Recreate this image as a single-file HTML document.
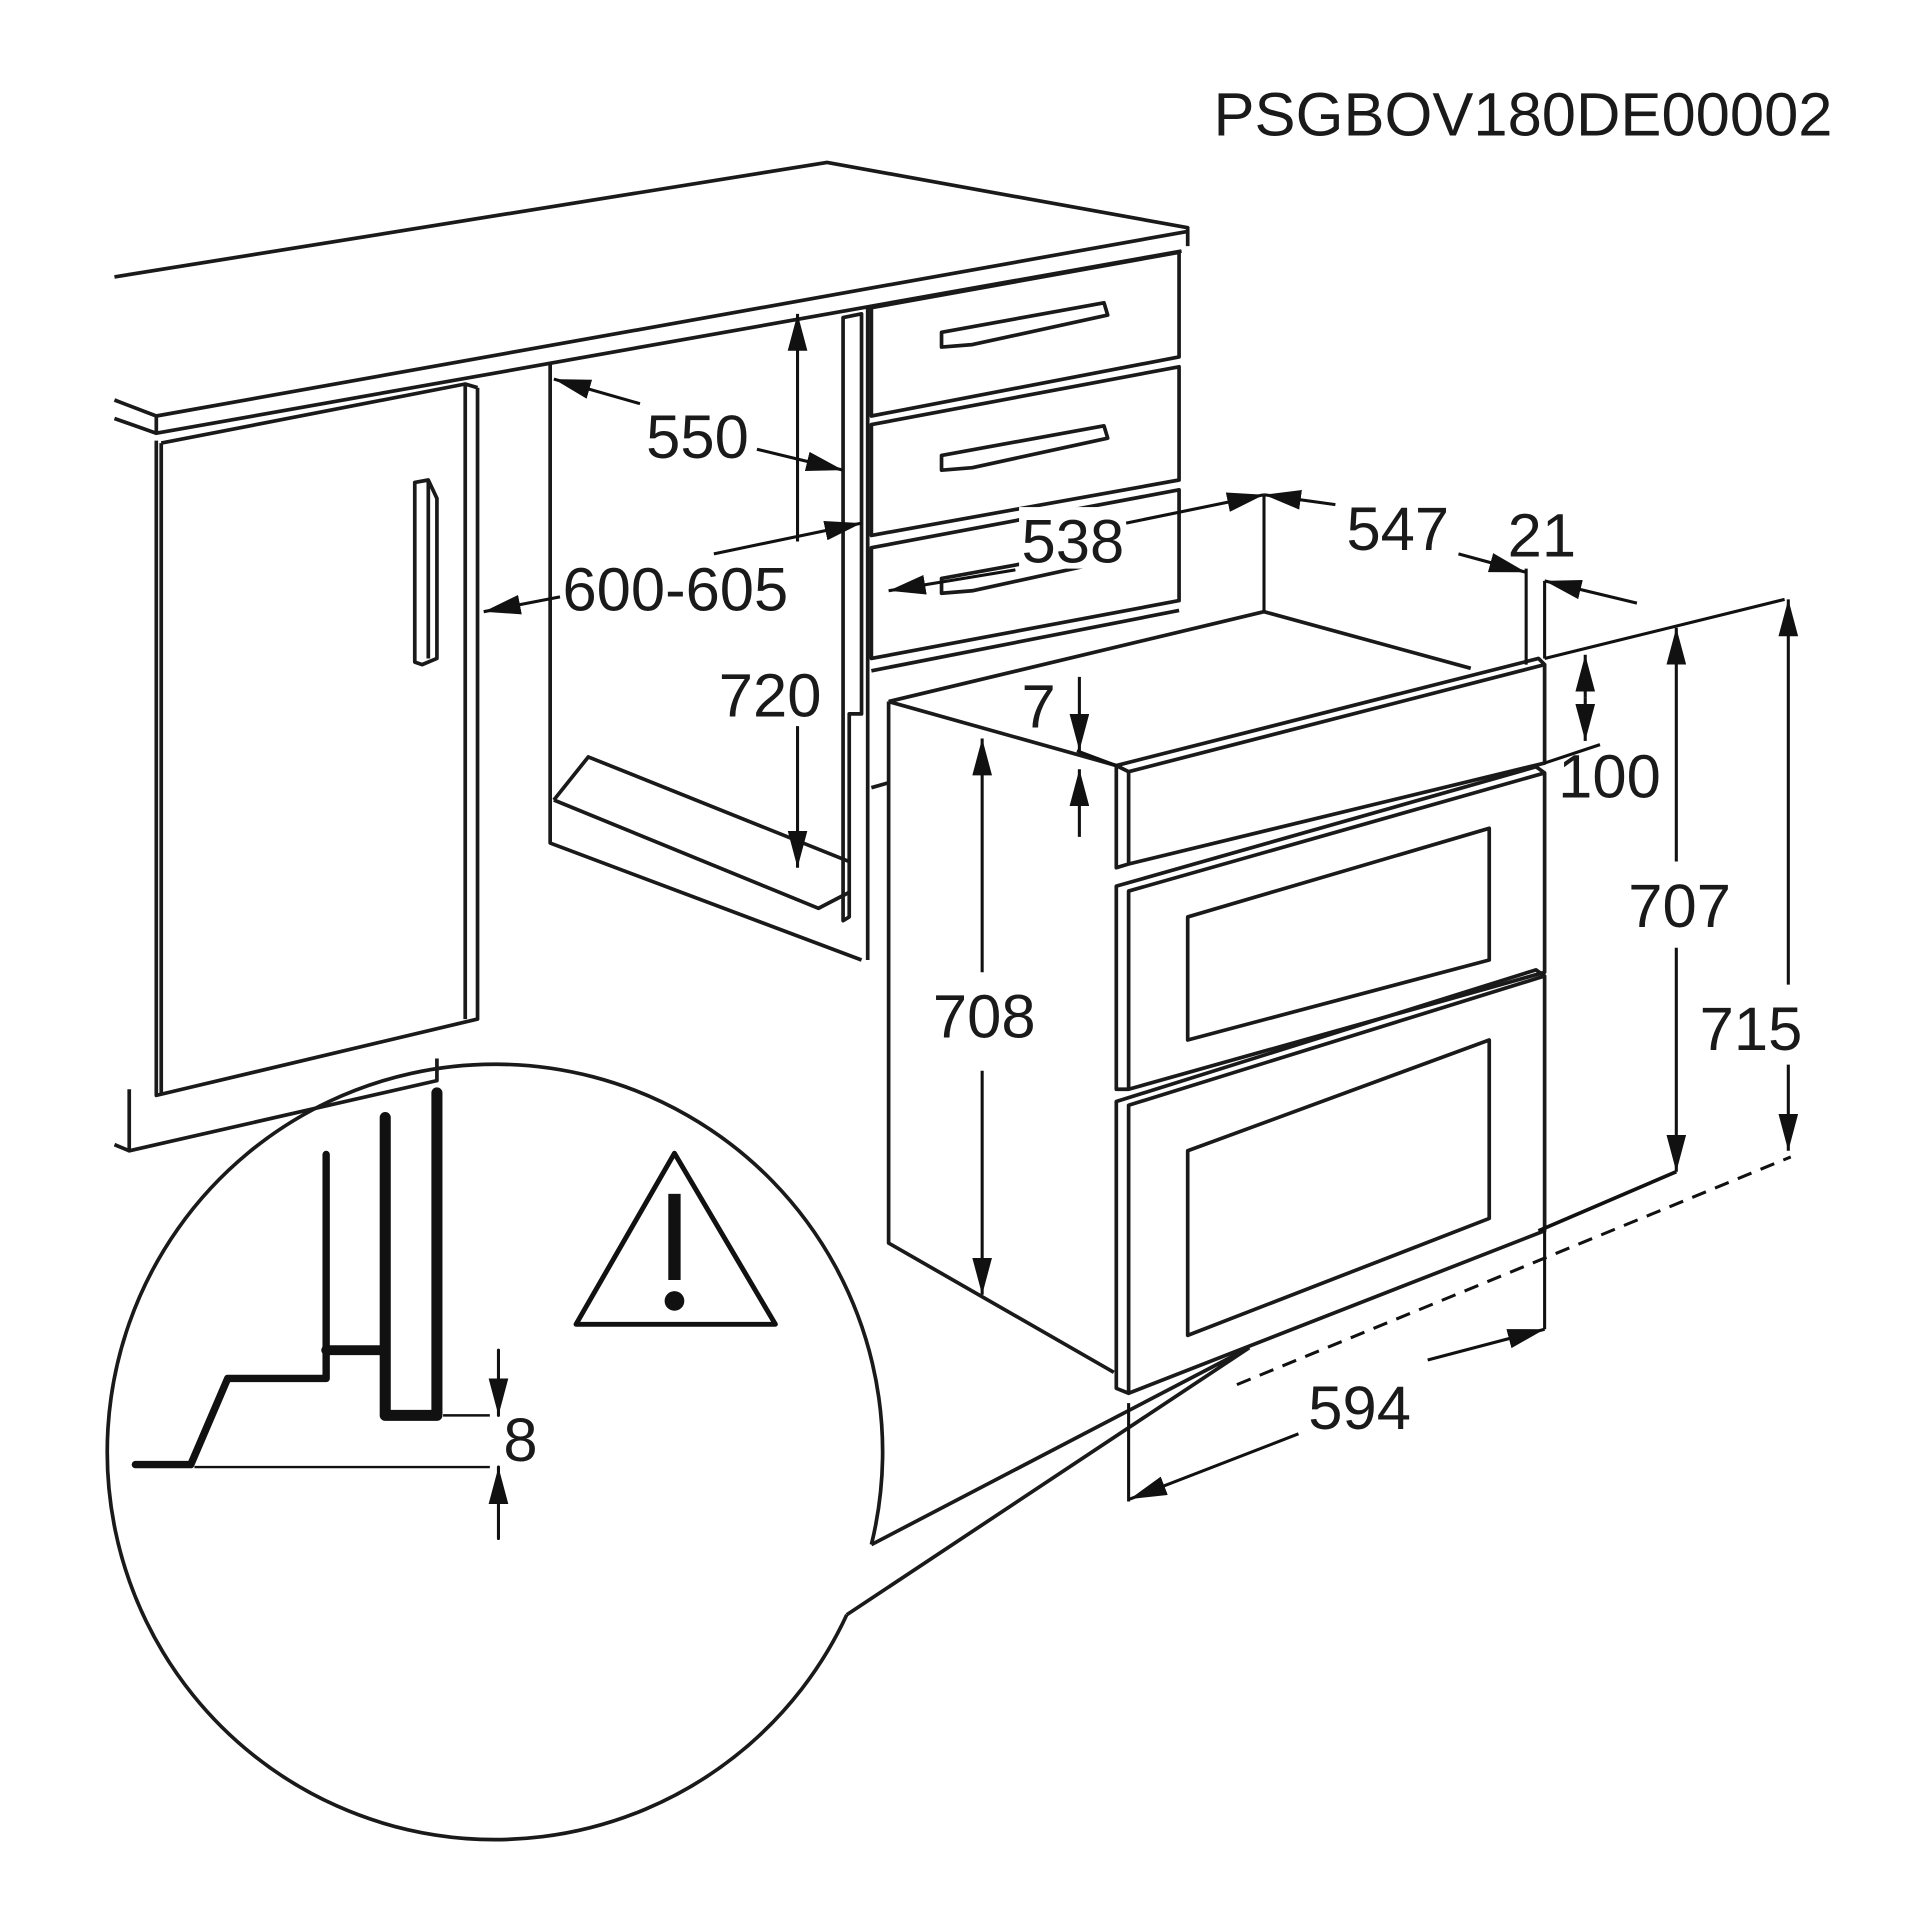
<!DOCTYPE html>
<html><head><meta charset="utf-8"><style>
html,body{margin:0;padding:0;background:#fff}
svg{display:block}
text{font-family:"Liberation Sans",sans-serif;fill:#1a1a1a}
</style></head><body>
<svg width="1920" height="1920" viewBox="0 0 1560 1560" xmlns="http://www.w3.org/2000/svg">
<defs>
<marker id="b" viewBox="0 0 30 16" refX="30" refY="8" markerWidth="30" markerHeight="16" orient="auto-start-reverse" markerUnits="userSpaceOnUse"><path d="M0,0 L30,8 L0,16 z" fill="#111"/></marker>
</defs>
<g fill="none" stroke="#1a1a1a" stroke-width="3" stroke-linejoin="round">
<!-- countertop -->
<path d="M93,225 L672,132 L965,185 L965,200"/>
<path d="M93,325 L127,338 L965,188"/>
<path d="M127,338 L127,352 L960,204"/>
<path d="M93,340 L127,352"/>
<!-- left door -->
<path d="M127,358 L127,890 L388,828 L388,315"/>
<path d="M131,360 L131,888"/>
<path d="M131,360 L378,312 L388,315"/>
<path d="M378,312 L378,828"/>
<path d="M337,392 L348,390 L355,405 L355,535 L343,540 L337,538 z M348,390 L348,535"/>
<!-- plinth -->
<path d="M105,885 L105,935 L355,878 L355,860"/>
<path d="M93,930 L105,935"/>
<!-- cavity -->
<path d="M447,295 L447,685 L700,780"/>
<path d="M450,650 L478,615 L690,700"/>
<path d="M450,650 L665,738 L690,725"/>
<path d="M685,258 L700,255 L700,580 L690,580 L690,745 L685,748 z"/>
<path d="M705,250 L705,780"/>
<!-- drawers -->
<path d="M708,250 L958,205 L958,290 L708,338 z"/>
<path d="M708,345 L958,298 L958,390 L708,435 z"/>
<path d="M708,445 L958,398 L958,488 L708,535 z"/>
<path d="M708,545 L958,496"/>
<path d="M708,640 L722,636"/>
<path d="M765,270 L897,246 L900,256 L790,280 L765,282 z"/>
<path d="M765,370 L897,346 L900,356 L790,380 L765,382 z"/>
<path d="M765,470 L897,446 L900,456 L790,480 L765,482 z"/>
<!-- oven -->
<path d="M722,570 L722,1010 L905,1115"/>
<path d="M722,570 L1027,497 L1195,543"/>
<path d="M722,570 L907,622"/>
<path d="M907,622 L1250,535 L1255,540 L917,627 z"/>
<path d="M907,622 L907,705 L917,702 L917,627 M1255,540 L1255,620 L917,702"/>
<path d="M907,720 L1248,623 L1255,628 L1255,790 L917,885 L907,885 z M917,885 L917,724 L1255,628"/>
<path d="M965,745 L1210,673 L1210,780 L965,845 z"/>
<path d="M907,895 L1248,788 L1255,793 L1255,1000 L917,1132 L907,1128 z M917,1132 L917,898 L1255,793"/>
<path d="M965,935 L1210,845 L1210,990 L965,1085 z"/>
<!-- magnifier -->
<path d="M708,1255 A315,315 0 1 0 688,1312"/>
<path d="M708,1255 L1015,1095 M688,1312 L1015,1095"/>
</g>
<!-- label backgrounds -->
<g fill="#fff">
<rect x="828" y="412" width="90" height="50"/>
<rect x="582" y="537" width="90" height="50"/>
</g>
<text x="830" y="457" font-size="50">538</text>
<text x="584" y="582" font-size="50">720</text>
<!-- dimension lines -->
<g fill="none" stroke="#111" stroke-width="2.5">
<path d="M1027,402 L1027,497 M1240,462 L1240,540 M1255,472 L1255,535"/>
<path d="M1255,535 L1450,487 M1255,620 L1300,605"/>
<path d="M1250,1000 L1362,952" stroke-width="3"/>
<path d="M1005,1125 L1455,940" stroke-dasharray="12,8"/>
<path d="M1255,1000 L1255,1080"/>
<path d="M917,1140 L917,1220"/>
<path d="M875,610 L907,622"/>
<path d="M520,328 L450,308" marker-end="url(#b)"/>
<path d="M615,365 L685,382" marker-end="url(#b)"/>
<path d="M580,450 L700,425" marker-end="url(#b)"/>
<path d="M455,485 L393,497" marker-end="url(#b)"/>
<path d="M648,440 L648,255" marker-end="url(#b)"/>
<path d="M648,590 L648,705" marker-end="url(#b)"/>
<path d="M825,463 L722,480" marker-end="url(#b)"/>
<path d="M915,425 L1027,402" marker-end="url(#b)"/>
<path d="M1085,410 L1027,402" marker-end="url(#b)"/>
<path d="M1185,450 L1240,465" marker-end="url(#b)"/>
<path d="M1330,490 L1255,472" marker-end="url(#b)"/>
<path d="M877,550 L877,610" marker-end="url(#b)"/>
<path d="M877,680 L877,625" marker-end="url(#b)"/>
<path d="M1288,567 L1288,532" marker-end="url(#b)"/>
<path d="M1288,567 L1288,602" marker-end="url(#b)"/>
<path d="M798,790 L798,600" marker-end="url(#b)"/>
<path d="M798,870 L798,1052" marker-end="url(#b)"/>
<path d="M1362,700 L1362,510" marker-end="url(#b)"/>
<path d="M1362,770 L1362,952" marker-end="url(#b)"/>
<path d="M1453,800 L1453,487" marker-end="url(#b)"/>
<path d="M1453,865 L1453,935" marker-end="url(#b)"/>
<path d="M1160,1105 L1255,1080" marker-end="url(#b)"/>
<path d="M1055,1165 L918,1218" marker-end="url(#b)"/>
</g>
<!-- magnifier detail -->
<g fill="none" stroke="#111" stroke-linecap="round" stroke-linejoin="round">
<path d="M110,1190 L155,1190 L185,1120 L265,1120 L265,938" stroke-width="6"/>
<path d="M265,1097 L313,1097" stroke-width="8"/>
<path d="M313,908 L313,1150 L355,1150 L355,888" stroke-width="9"/>
<path d="M360,1150 L398,1150 M158,1192 L398,1192" stroke-width="2" stroke-linecap="butt"/>
<path d="M405,1097 L405,1150" stroke-width="2.5" marker-end="url(#b)"/>
<path d="M405,1250 L405,1192" stroke-width="2.5" marker-end="url(#b)"/>
<path d="M548,937 L630,1076 L468,1076 z" stroke-width="4"/>
</g>
<rect x="543" y="970" width="10" height="70" fill="#111"/>
<circle cx="548" cy="1057" r="8" fill="#111"/>
<!-- text -->
<g font-size="50">
<text x="986" y="110">PSGBOV180DE00002</text>
<text x="525" y="372">550</text>
<text x="457" y="496">600-605</text>
<text x="1094" y="447">547</text>
<text x="1225" y="452">21</text>
<text x="830" y="591">7</text>
<text x="1266" y="648">100</text>
<text x="1323" y="753">707</text>
<text x="758" y="843">708</text>
<text x="1381" y="853">715</text>
<text x="1063" y="1161">594</text>
<text x="409" y="1187">8</text>
</g>
</svg>
</body></html>
